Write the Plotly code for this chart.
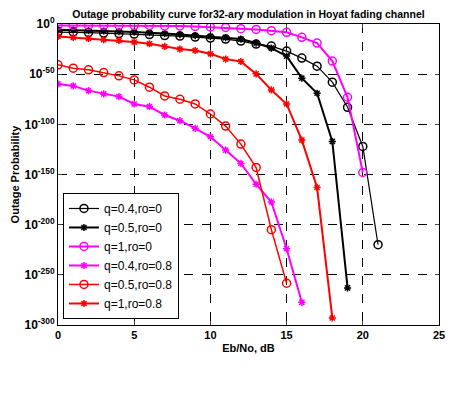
import numpy as np
import plotly.graph_objects as go

# Eb/No in dB, outage probability stored as log10 exponents
ebno = list(range(0, 22))

q04_ro0 = [-8, -8, -8.5, -9, -9.5, -10, -10.5, -11.5, -12, -13, -14, -15, -17, -20, -22, -27, -34, -42, -58, -83, -122, -220]
q05_ro0 = [-5.7, -6, -6.5, -7, -7.5, -8, -8.5, -9.5, -10.5, -11.5, -12.5, -13.5, -15, -19, -24, -32, -54, -69, -117, -263]
q1_ro0 = [-1.5, -1.5, -1.5, -1.5, -1.5, -1.5, -1.5, -2, -2, -2.5, -3, -3.5, -4.7, -5.4, -6.7, -8.3, -13.3, -19, -37, -73, -148]
q04_ro08 = [-59.7, -61.7, -66.4, -69.7, -72.4, -79.7, -82.4, -90.7, -96.4, -104, -112.4, -125.7, -139, -159.7, -177.4, -224, -277.4]
q05_ro08 = [-40.7, -44, -45.7, -48.4, -51.7, -55.7, -63, -71.7, -75, -79.7, -89.7, -101.7, -119.7, -143, -205, -258.4]
q1_ro08 = [-12.4, -13.4, -14.4, -15.7, -16.4, -18, -19.7, -22.4, -25, -26.4, -29.7, -35, -37.4, -49.7, -65.7, -79.7, -115.7, -163, -293]

series = [
    ("q=0.4,ro=0", q04_ro0, "black", "circle-open", 1.2, 8),
    ("q=0.5,ro=0", q05_ro0, "black", "asterisk-open", 2, 6),
    ("q=1,ro=0", q1_ro0, "#ff00ff", "circle-open", 2, 8),
    ("q=0.4,ro=0.8", q04_ro08, "#ff00ff", "asterisk-open", 2, 6),
    ("q=0.5,ro=0.8", q05_ro08, "#ff0000", "circle-open", 1.5, 8),
    ("q=1,ro=0.8", q1_ro08, "#ff0000", "asterisk-open", 2, 6),
]

ytick_exp = [0, -50, -100, -150, -200, -250, -300]

fig = go.Figure()
for name, vals, col, sym, lw, ms in series:
    fig.add_trace(go.Scatter(
        x=ebno[:len(vals)], y=np.power(10.0, vals), name=name, mode="lines+markers",
        line=dict(color=col, width=lw),
        marker=dict(symbol=sym, size=ms, color=col, line=dict(color=col, width=1.5)),
    ))

# page body adds an 8px margin, so the figure is shrunk by that much
fig.update_layout(
    width=449, height=411,
    margin=dict(l=50, r=18, t=16, b=94),
    paper_bgcolor="white", plot_bgcolor="white",
    font=dict(family="Arial, Liberation Sans", color="black"),
    title=dict(text="<b>Outage probability curve for32-ary modulation in Hoyat fading channel</b>",
               xref="paper", x=0.5, xanchor="center", y=0.994, yanchor="top", font=dict(size=10.5)),
    legend=dict(x=0.013, y=0.02, xanchor="left", yanchor="bottom",
                bgcolor="white", bordercolor="black", borderwidth=1,
                font=dict(size=12), tracegroupgap=0),
    showlegend=True,
)
fig.update_xaxes(range=[0, 25], dtick=5, ticks="inside", ticklen=4, mirror="ticks",
                 showline=True, linecolor="black", linewidth=1, automargin=False,
                 showgrid=True, gridcolor="black", griddash="dash", gridwidth=0.8,
                 zeroline=False, tickprefix="<b>", ticksuffix="</b>", tickfont=dict(size=11),
                 title=dict(text="<b>Eb/No, dB</b>", font=dict(size=11), standoff=4))
fig.update_yaxes(type="log", range=[-300, 0],
                 tickvals=[10.0 ** e for e in ytick_exp],
                 ticktext=["<b>10<sup>%d</sup></b>" % e for e in ytick_exp],
                 ticks="inside", ticklen=4, mirror="ticks", automargin=False,
                 showline=True, linecolor="black", linewidth=1,
                 showgrid=True, gridcolor="black", griddash="dash", gridwidth=0.8,
                 zeroline=False, tickfont=dict(size=12),
                 title=dict(text="<b>Outage Probability</b>", font=dict(size=11), standoff=2))

fig.write_html("out.html")
